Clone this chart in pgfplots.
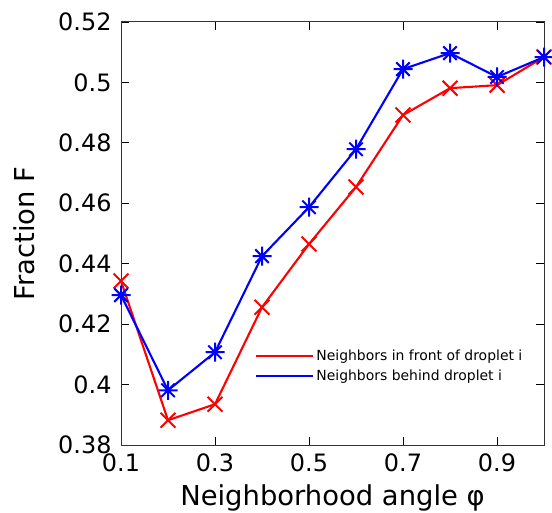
\documentclass[border=0pt]{standalone}
\usepackage{pgfplots}
\pgfplotsset{compat=1.18}
\usepackage{fontspec}
\setmainfont{DejaVu Sans}
\pgfdeclareplotmark{plusx}{%
  \pgfpathmoveto{\pgfqpoint{-\pgfplotmarksize}{0pt}}\pgfpathlineto{\pgfqpoint{\pgfplotmarksize}{0pt}}%
  \pgfpathmoveto{\pgfqpoint{0pt}{-\pgfplotmarksize}}\pgfpathlineto{\pgfqpoint{0pt}{\pgfplotmarksize}}%
  \pgfpathmoveto{\pgfqpoint{-0.707\pgfplotmarksize}{-0.707\pgfplotmarksize}}\pgfpathlineto{\pgfqpoint{0.707\pgfplotmarksize}{0.707\pgfplotmarksize}}%
  \pgfpathmoveto{\pgfqpoint{-0.707\pgfplotmarksize}{0.707\pgfplotmarksize}}\pgfpathlineto{\pgfqpoint{0.707\pgfplotmarksize}{-0.707\pgfplotmarksize}}%
  \pgfusepathqstroke}
\begin{document}
\begin{tikzpicture}
\begin{axis}[
  scale only axis, width=423bp, height=423bp,
  xmin=0.1, xmax=1.0, ymin=0.38, ymax=0.52,
  xtick={0.1,0.3,0.5,0.7,0.9},
  ytick={0.38,0.40,...,0.52},
  yticklabels={0.38,0.4,0.42,0.44,0.46,0.48,0.5,0.52},
  xticklabels={0.1,0.3,0.5,0.7,0.9},
  tick align=inside, major tick length=8bp,
  tick style={black, line width=0.8bp},
  axis line style={line width=1bp, black!80},
  /pgf/number format/assume math mode=true,
  tick label style={font=\fontsize{24}{28}\selectfont},
  xticklabel style={yshift=-5bp},
  yticklabel style={xshift=-6bp},
  label style={font=\fontsize{27.5}{32}\selectfont},
  xlabel={Neighborhood angle φ},
  ylabel={Fraction F},
  xlabel style={yshift=-6bp},
  ylabel style={yshift=17bp},
  clip=false,
  legend style={draw=none, fill=none, at={(rel axis cs:0.317,0.23)}, anchor=north west,
    font=\fontsize{14}{16}\selectfont, row sep=4bp, inner sep=0pt},
  legend cell align=left,
  legend image code/.code={\draw[#1] (0bp,0bp) -- (57bp,0bp);},
]
\coordinate (sw) at (rel axis cs:0,0);
\coordinate (ne) at (rel axis cs:1,1);
\addplot[red, line width=2.1bp, mark=x, mark size=10.5bp, mark options={line width=2bp}] coordinates {
(0.1,0.4343) (0.2,0.3882) (0.3,0.3935) (0.4,0.4256) (0.5,0.4465) (0.6,0.4654) (0.7,0.4892) (0.8,0.4981) (0.9,0.4991) (1.0,0.5084)};
\addlegendentry{Neighbors in front of droplet i}
\addplot[blue, line width=2.1bp, mark=plusx, mark size=9.5bp, mark options={line width=2bp}] coordinates {
(0.1,0.4296) (0.2,0.3981) (0.3,0.4107) (0.4,0.4425) (0.5,0.4587) (0.6,0.4779) (0.7,0.5044) (0.8,0.5097) (0.9,0.5018) (1.0,0.5084)};
\addlegendentry{Neighbors behind droplet i}
\end{axis}
\pgfresetboundingbox
\path ([xshift=-121bp,yshift=-67bp]sw) rectangle ([xshift=8bp,yshift=22bp]ne);
\end{tikzpicture}
\end{document}
